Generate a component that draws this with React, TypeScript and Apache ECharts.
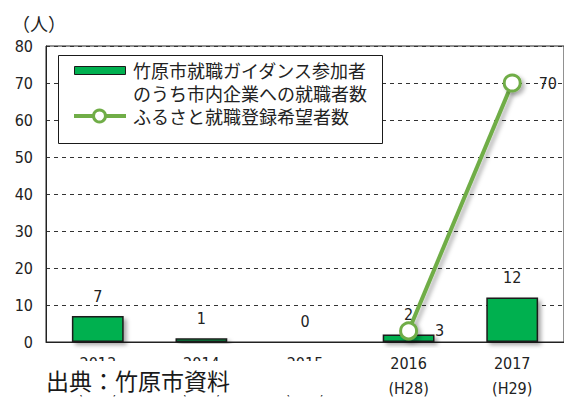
import React, { useEffect, useRef } from "react";
import * as echarts from "echarts";

const years = ["2013", "2014", "2015", "2016", "2017"];
const eraLabels = ["(H25)", "(H26)", "(H27)", "(H28)", "(H29)"];
const barName = "竹原市就職ガイダンス参加者\nのうち市内企業への就職者数";
const lineName = "ふるさと就職登録希望者数";
const barValues = [7, 1, 0, 2, 12];
const lineValues: (number | null)[] = [null, null, null, 3, 70];
const unitLabel = "（人）";
const sourceLabel = "出典：竹原市資料";

const GREEN = "#00b050";
const LINE_GREEN = "#70ad47";
const NUM_FONT = "'DejaVu Sans Condensed', 'Liberation Sans', sans-serif";
const JP_FONT = "'Noto Sans CJK JP', sans-serif";

export default function App() {
  const ref = useRef<HTMLDivElement>(null);
  useEffect(() => {
    if (!ref.current) return;
    const chart = echarts.init(ref.current, null, { renderer: "svg" });
    const barLines = barName.split("\n");
    const option: any = {
      animation: false,
      backgroundColor: "#ffffff",
      grid: {
        left: 46,
        top: 46,
        width: 524,
        height: 301,
        show: true,
        borderColor: "#222",
        borderWidth: 1,
        containLabel: false,
      },
      xAxis: {
        type: "category",
        data: years.map((y, i) => y + "\n" + eraLabels[i]),
        boundaryGap: true,
        axisLine: { show: true, lineStyle: { color: "#222", width: 1 } },
        axisTick: { show: false },
        axisLabel: {
          color: "#222",
          fontSize: 16,
          lineHeight: 25,
          margin: 9,
          fontFamily: NUM_FONT,
        },
        splitLine: { show: false },
      },
      yAxis: {
        type: "value",
        min: 0,
        max: 80,
        interval: 10,
        axisLine: { show: true, lineStyle: { color: "#222", width: 1 } },
        axisTick: { show: false },
        axisLabel: {
          color: "#222",
          fontSize: 16,
          margin: 13,
          fontFamily: NUM_FONT,
        },
        splitLine: {
          show: true,
          lineStyle: { color: "#333", width: 1, type: [4, 4] },
        },
      },
      series: [
        {
          name: barName,
          type: "bar",
          data: barValues,
          barWidth: "50%",
          itemStyle: {
            color: GREEN,
            borderColor: "#1a1a1a",
            borderWidth: 1.5,
            shadowColor: "rgba(0,0,0,0.35)",
            shadowBlur: 4,
            shadowOffsetX: 3,
            shadowOffsetY: 3,
          },
          label: {
            show: true,
            position: "top",
            distance: 12,
            color: "#222",
            fontSize: 16,
            fontFamily: NUM_FONT,
          },
          z: 2,
        },
        {
          name: lineName,
          type: "line",
          data: lineValues,
          connectNulls: false,
          symbol: "circle",
          symbolSize: 16,
          showSymbol: true,
          lineStyle: {
            color: LINE_GREEN,
            width: 4,
            shadowColor: "rgba(0,0,0,0.3)",
            shadowBlur: 4,
            shadowOffsetX: 3,
            shadowOffsetY: 3,
          },
          itemStyle: {
            color: "#ffffff",
            borderColor: LINE_GREEN,
            borderWidth: 3,
            shadowColor: "rgba(0,0,0,0.3)",
            shadowBlur: 4,
            shadowOffsetX: 3,
            shadowOffsetY: 3,
          },
          label: {
            show: true,
            position: "right",
            distance: 17,
            color: "#222",
            fontSize: 16,
            fontFamily: NUM_FONT,
          },
          z: 3,
        },
      ],
      graphic: [
        {
          type: "text",
          x: 12,
          y: 23,
          style: { text: unitLabel, font: `18px ${JP_FONT}`, fill: "#222", verticalAlign: "middle" },
        },
        {
          type: "rect",
          z: 10,
          shape: { x: 58.5, y: 55.5, width: 324, height: 88 },
          style: { fill: "#ffffff", stroke: "#1a1a1a", lineWidth: 1 },
        },
        {
          type: "rect",
          z: 11,
          shape: { x: 74.5, y: 66.5, width: 51, height: 8 },
          style: { fill: GREEN, stroke: "#1a1a1a", lineWidth: 1 },
        },
        {
          type: "text",
          z: 11,
          x: 133,
          y: 70,
          style: { text: barLines[0], font: `18px ${JP_FONT}`, fill: "#222", verticalAlign: "middle" },
        },
        {
          type: "text",
          z: 11,
          x: 133,
          y: 93,
          style: { text: barLines[1], font: `18px ${JP_FONT}`, fill: "#222", verticalAlign: "middle" },
        },
        {
          type: "line",
          z: 11,
          shape: { x1: 74, y1: 116, x2: 126, y2: 116 },
          style: { stroke: LINE_GREEN, lineWidth: 4 },
        },
        {
          type: "circle",
          z: 12,
          shape: { cx: 99.5, cy: 116, r: 6 },
          style: { fill: "#ffffff", stroke: LINE_GREEN, lineWidth: 3 },
        },
        {
          type: "text",
          z: 11,
          x: 133,
          y: 116,
          style: { text: lineName, font: `18px ${JP_FONT}`, fill: "#222", verticalAlign: "middle" },
        },
        {
          type: "rect",
          z: 20,
          shape: { x: 38, y: 361, width: 302, height: 34 },
          style: { fill: "#ffffff" },
        },
        {
          type: "text",
          z: 21,
          x: 46,
          y: 380,
          style: { text: sourceLabel, font: `23px ${JP_FONT}`, fill: "#1a1a1a", verticalAlign: "middle" },
        },
      ],
    };
    chart.setOption(option);
    return () => chart.dispose();
  }, []);
  return (
    <div
      ref={ref}
      style={{ position: "fixed", left: 0, top: 0, width: 564, height: 401 }}
    />
  );
}
